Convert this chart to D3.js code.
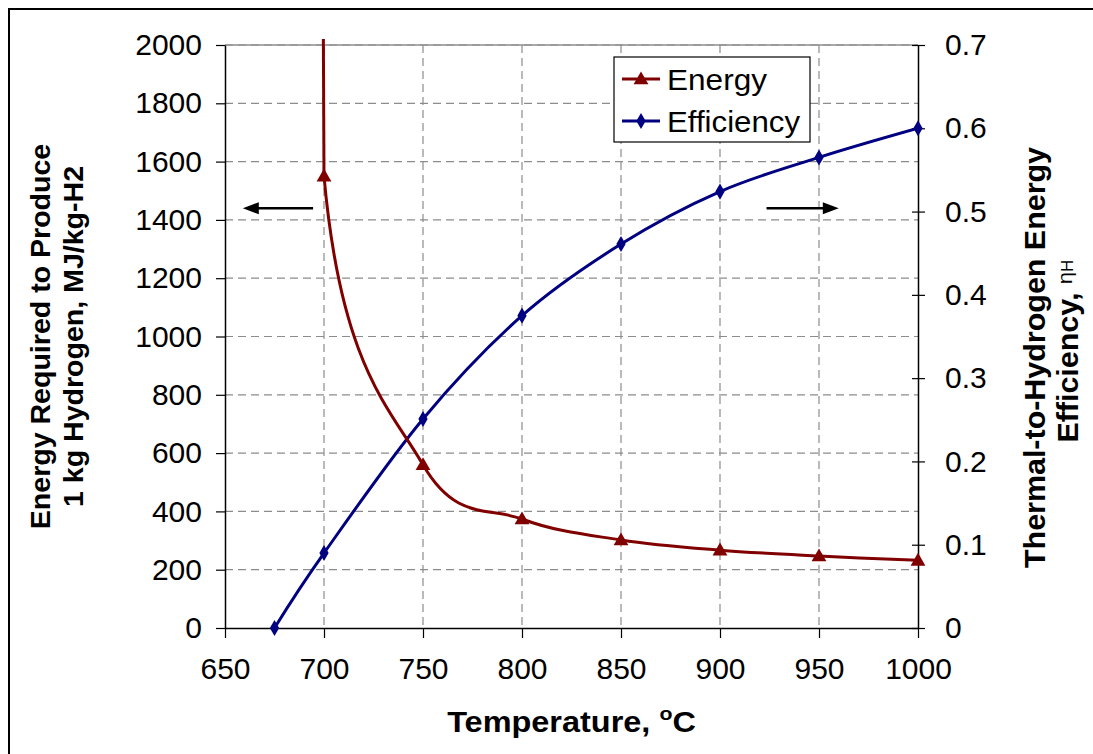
<!DOCTYPE html>
<html><head><meta charset="utf-8">
<script src="https://cdn.jsdelivr.net/npm/d3@7"></script>
<style>
html,body{margin:0;padding:0;background:#fff;}
svg{display:block;font-family:"Liberation Sans",Arial,sans-serif;}
</style></head>
<body><svg id="c" width="1093" height="754"></svg>
<script>
// ---- data ----
const xTicks = [650, 700, 750, 800, 850, 900, 950, 1000];
const energyTicks = [0, 200, 400, 600, 800, 1000, 1200, 1400, 1600, 1800, 2000];
const effTicks = [0, 0.1, 0.2, 0.3, 0.4, 0.5, 0.6, 0.7];
const energyTemp = [698, 700, 750, 800, 850, 900, 950, 1000];
const energyVal  = [4500, 1550, 560, 374, 302, 267, 247, 232];
const effTemp = [675, 700, 750, 800, 850, 900, 950, 1000];
const effVal  = [0, 0.09, 0.251, 0.375, 0.461, 0.524, 0.565, 0.600];
const seriesNames = ["Energy", "Efficiency"];

const W = 1093, H = 754;
const m = {l: 225, r: 918, t: 45, b: 628};
const svg = d3.select("#c");
const red = "#800000", blue = "#000080";

const x = d3.scaleLinear().domain([650, 1000]).range([m.l, m.r]);
const yL = d3.scaleLinear().domain([0, 2000]).range([m.b, m.t]);
const yR = d3.scaleLinear().domain([0, 0.7]).range([m.b, m.t]);

// outer frame
svg.append("rect").attr("x", 9).attr("y", 9).attr("width", W + 20).attr("height", H + 20)
  .attr("fill", "none").attr("stroke", "#000").attr("stroke-width", 2);

// gridlines
const grid = svg.append("g").attr("stroke", "#8c8c8c").attr("stroke-width", 1.2).attr("stroke-dasharray", "8,5");
grid.selectAll(".gh").data(energyTicks.slice(1)).join("line")
  .attr("x1", m.l).attr("x2", m.r).attr("y1", d => yL(d)).attr("y2", d => yL(d));
grid.selectAll(".gv").data(xTicks.slice(1, -1)).join("line")
  .attr("y1", m.t).attr("y2", m.b).attr("x1", d => x(d)).attr("x2", d => x(d));

// plot border top
svg.append("line").attr("x1", m.l).attr("x2", m.r).attr("y1", m.t).attr("y2", m.t)
  .attr("stroke", "#8c8c8c").attr("stroke-width", 1.5);

// axes
const axB = svg.append("g").attr("transform", `translate(0,${m.b})`)
  .call(d3.axisBottom(x).tickValues(xTicks).tickSize(10).tickPadding(20).tickSizeOuter(0).tickFormat(d3.format("d")));
const axL = svg.append("g").attr("transform", `translate(${m.l},0)`)
  .call(d3.axisLeft(yL).tickValues(energyTicks).tickSize(9).tickPadding(14).tickSizeOuter(0).tickFormat(d3.format("d")));
const axR = svg.append("g").attr("transform", `translate(${m.r},0)`)
  .call(d3.axisRight(yR).tickValues(effTicks).tickSize(7).tickPadding(20).tickSizeOuter(0)
    .tickFormat(d => d === 0 ? "0" : d3.format(".1f")(d)));
axR.selectAll(".tick line").attr("x1", -6);
[axB, axL, axR].forEach(a => {
  a.selectAll("path.domain").attr("stroke", "#000").attr("stroke-width", 1.5);
  a.selectAll(".tick line").attr("stroke", "#000").attr("stroke-width", 1.2);
  a.selectAll("text").attr("font-size", 30).attr("font-family", "Liberation Sans, Arial, sans-serif").attr("fill", "#000");
});
axB.selectAll("text").attr("dy", "0.71em");

// clips
const defs = svg.append("defs");
defs.append("clipPath").attr("id", "clip").append("rect")
  .attr("x", m.l).attr("y", m.t - 6).attr("width", m.r - m.l).attr("height", m.b - m.t + 6);
defs.append("clipPath").attr("id", "clipE").append("rect")
  .attr("x", m.l).attr("y", yL(energyVal[1])).attr("width", m.r - m.l).attr("height", m.b - yL(energyVal[1]));

const lineE = d3.line().x(d => x(d[0])).y(d => yL(d[1])).curve(d3.curveCardinal.tension(0));
const lineELin = d3.line().x(d => x(d[0])).y(d => yL(d[1]));
const lineF = d3.line().x(d => x(d[0])).y(d => yR(d[1])).curve(d3.curveCardinal.tension(0));
const eData = energyTemp.map((t, i) => [t, energyVal[i]]);
const fData = effTemp.map((t, i) => [t, effVal[i]]);

const plot = svg.append("g").attr("clip-path", "url(#clip)");
plot.append("path").attr("d", lineF(fData)).attr("fill", "none").attr("stroke", blue).attr("stroke-width", 3);
plot.append("path").attr("d", lineELin(eData.slice(0, 2))).attr("fill", "none").attr("stroke", red).attr("stroke-width", 3);
svg.append("g").attr("clip-path", "url(#clipE)")
  .append("path").attr("d", lineE(eData)).attr("fill", "none").attr("stroke", red).attr("stroke-width", 3);

const tri = d3.symbol().type(d3.symbolTriangle).size(95);
const dia = d3.symbol().type(d3.symbolDiamond).size(75);
svg.append("g").selectAll("path").data(fData).join("path")
  .attr("d", dia).attr("transform", d => `translate(${x(d[0])},${yR(d[1])})`).attr("fill", blue);
svg.append("g").selectAll("path").data(eData.filter(d => d[1] <= 2000)).join("path")
  .attr("d", tri).attr("transform", d => `translate(${x(d[0])},${yL(d[1]) + 1})`).attr("fill", red);

// arrows
function arrow(x1, x2, yv) {
  const y = yL(yv), dir = Math.sign(x2 - x1);
  const X1 = x(x1), X2 = x(x2);
  svg.append("line").attr("x1", X1).attr("x2", X2 - dir * 10).attr("y1", y).attr("y2", y)
    .attr("stroke", "#000").attr("stroke-width", 2.5);
  svg.append("path").attr("d", `M${X2},${y} L${X2 - dir * 16},${y - 6} L${X2 - dir * 16},${y + 6} Z`).attr("fill", "#000");
}
arrow(694.5, 659, 1440);
arrow(923.5, 960, 1440);

// legend
const lg = svg.append("g");
lg.append("rect").attr("x", 614).attr("y", 57).attr("width", 196).attr("height", 85)
  .attr("fill", "#fff").attr("stroke", "#000").attr("stroke-width", 1.2);
const legRows = [{name: seriesNames[0], c: red, s: tri, y: 79}, {name: seriesNames[1], c: blue, s: dia, y: 121}];
legRows.forEach(r => {
  lg.append("line").attr("x1", 622).attr("x2", 660).attr("y1", r.y).attr("y2", r.y).attr("stroke", r.c).attr("stroke-width", 3);
  lg.append("path").attr("d", r.s).attr("transform", `translate(641,${r.y + (r.s === tri ? 1 : 0)})`).attr("fill", r.c);
  lg.append("text").attr("x", 667).attr("y", r.y + 11).attr("font-size", 30)
    .attr("textLength", r.name === "Energy" ? 100 : 133).attr("lengthAdjust", "spacingAndGlyphs").text(r.name);
});

// axis titles
const xc = (m.l + m.r) / 2;
const xt = svg.append("text").attr("x", 0).attr("y", 0).attr("text-anchor", "middle")
  .attr("transform", `translate(${xc},732) scale(1.12,1)`)
  .attr("font-size", 29).attr("font-weight", "bold");
xt.append("tspan").text("Temperature, ");
xt.append("tspan").attr("font-size", 19).attr("dy", -12).text("o");
xt.append("tspan").attr("dy", 12).text("C");

const yc = (m.t + m.b) / 2;
const lt = svg.append("g").attr("transform", `translate(0,${yc}) rotate(-90) scale(1.02,1)`);
lt.append("text").attr("x", 0).attr("y", 50).attr("text-anchor", "middle").attr("font-size", 28).attr("font-weight", "bold")
  .text("Energy Required to Produce");
lt.append("text").attr("x", 0).attr("y", 83).attr("text-anchor", "middle").attr("font-size", 28).attr("font-weight", "bold")
  .text("1 kg Hydrogen, MJ/kg-H2");

const rt = svg.append("g").attr("transform", `translate(0,${yc}) rotate(-90) scale(1.05,1)`);
rt.append("text").attr("x", -20).attr("y", 1045).attr("text-anchor", "middle").attr("font-size", 29).attr("font-weight", "bold")
  .text("Thermal-to-Hydrogen Energy");
const r2 = rt.append("text").attr("x", -14).attr("y", 1078).attr("text-anchor", "middle").attr("font-size", 29).attr("font-weight", "bold");
r2.append("tspan").text("Efficiency, ");
r2.append("tspan").attr("font-weight", "normal").attr("font-size", 21).attr("dy", -6).text("η");
r2.append("tspan").attr("font-weight", "normal").attr("font-size", 16).attr("dy", 1).text("H");
</script></body></html>
